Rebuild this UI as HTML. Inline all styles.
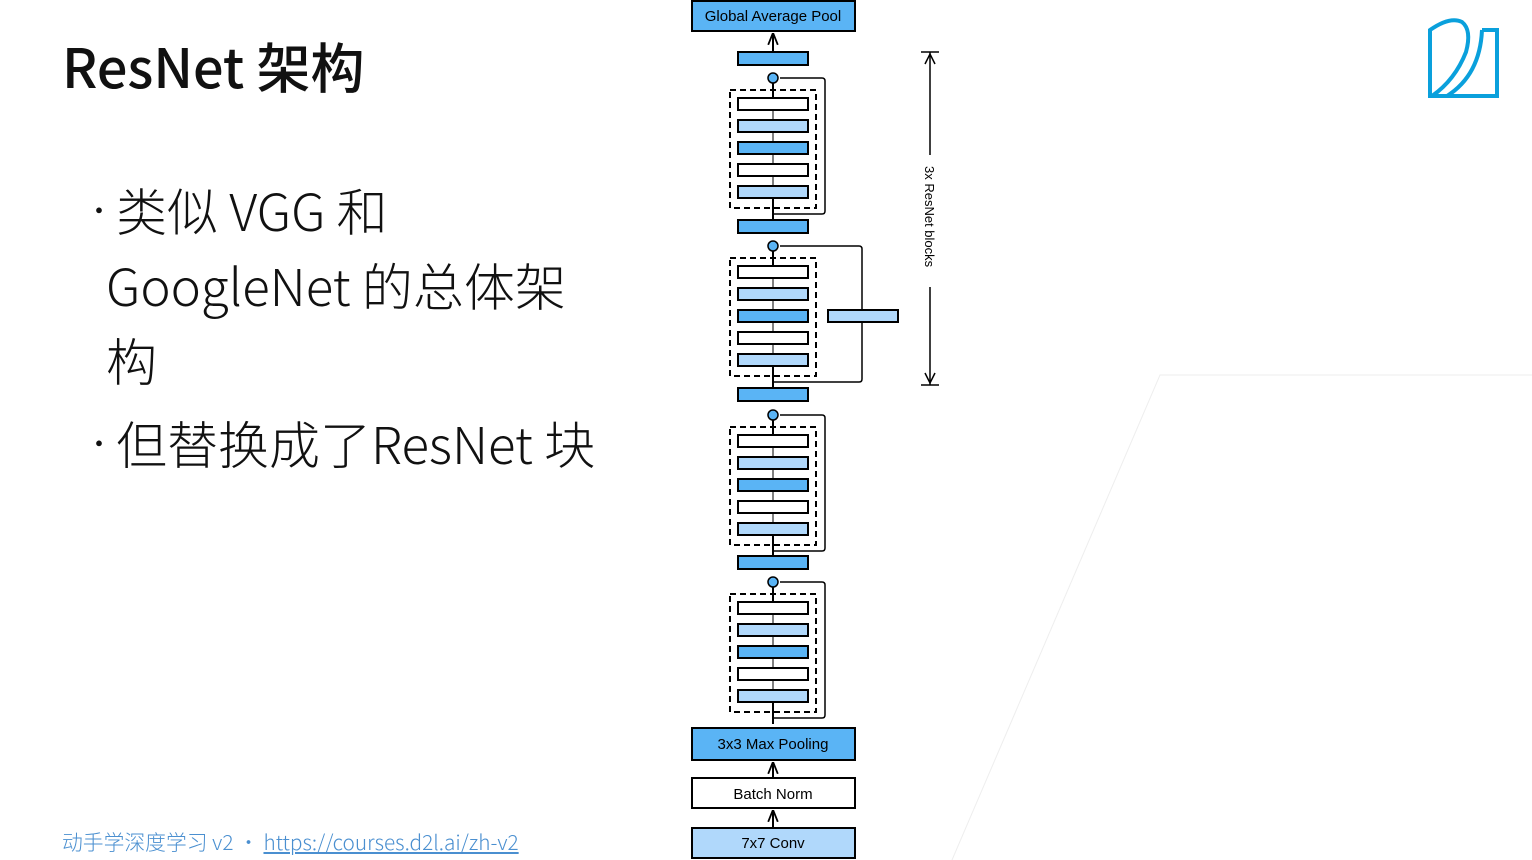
<!DOCTYPE html>
<html><head><meta charset="utf-8"><style>
body{margin:0;width:1532px;height:860px;background:#fff;overflow:hidden;position:relative;font-family:"Noto Sans CJK SC","Liberation Sans",sans-serif}
.t{position:absolute;color:#111;white-space:nowrap}
.b{position:absolute;left:-32px;top:0;font-size:30px}
</style></head><body>
<div class="t" style="left:62px;top:30px;font-size:54px;font-weight:500;line-height:70px">ResNet 架构</div>
<div class="t" style="left:116px;top:172px;font-size:51px;line-height:75px;font-weight:300">
<div style="position:relative"><span class="b">•</span>类似 VGG 和<div style="margin-left:-10px">GoogleNet 的总体架<br>构</div></div>
<div style="position:relative;margin-top:8px"><span class="b">•</span>但替换成了ResNet 块</div>
</div>
<div class="t" style="left:62px;top:826px;font-size:20.8px;line-height:30px;color:#4a8fd0;font-weight:300">动手学深度学习 v2 • <span style="text-decoration:underline">https://courses.d2l.ai/zh-v2</span></div>
<svg width="1532" height="860" style="position:absolute;left:0;top:0" font-family="Liberation Sans,sans-serif">
<path d="M952 860 L1160 375 L1532 375" stroke="#eee" fill="none"/>
<defs><marker id="a" viewBox="0 0 10 10" refX="9" refY="5" markerWidth="6" markerHeight="6" orient="auto"><path d="M0 1L10 5L0 9" fill="none" stroke="#000" stroke-width="1.5"/></marker></defs>
<g stroke="#000" stroke-width="2">
<rect x="692" y="1" width="163" height="30" fill="#5ab4f5"/>
<line x1="773" y1="52" x2="773" y2="34" marker-end="url(#a)"/>
<rect x="738" y="52" width="70" height="13" fill="#5ab4f5"/>
<rect x="738" y="220" width="70" height="13" fill="#5ab4f5"/>
<rect x="738" y="388" width="70" height="13" fill="#5ab4f5"/>
<rect x="738" y="556" width="70" height="13" fill="#5ab4f5"/>
<rect x="692" y="728" width="163" height="32" fill="#5ab4f5"/>
<rect x="692" y="778" width="163" height="30" fill="#fff"/>
<rect x="692" y="828" width="163" height="30" fill="#b0d8fb"/>
<line x1="773" y1="828" x2="773" y2="811" marker-end="url(#a)"/>
<line x1="773" y1="778" x2="773" y2="763" marker-end="url(#a)"/>
</g>
<g id="blk"></g>
<text x="773" y="21" font-size="15" text-anchor="middle">Global Average Pool</text>
<text x="773" y="749" font-size="15" text-anchor="middle">3x3 Max Pooling</text>
<text x="773" y="799" font-size="15" text-anchor="middle">Batch Norm</text>
<text x="773" y="848" font-size="15" text-anchor="middle">7x7 Conv</text>
<g stroke="#000" stroke-width="1.5">
<line x1="930" y1="52" x2="930" y2="155"/><line x1="930" y1="287" x2="930" y2="385"/>
<line x1="921" y1="52" x2="939" y2="52"/><line x1="921" y1="385" x2="939" y2="385"/>
<path d="M925 64L930 54L935 64M925 373L930 383L935 373" fill="none"/>
</g>
<text transform="translate(925,166) rotate(90)" font-size="13">3x ResNet blocks</text>
<g fill="none" stroke="#0aa0dc" stroke-width="4">
<path d="M1430 96V30Q1450 16 1462 22Q1472 30 1466 52Q1455 80 1432 96ZM1430 96H1497V30H1482"/>
<path d="M1482 30Q1480 75 1447 96"/>
</g>
</svg>
<script>
var g=document.getElementById('blk'),s='';
var tops=[90,258,427,594],C=['#fff','#b0d8fb','#5ab4f5','#fff','#b0d8fb'];
tops.forEach(function(t,i){
 var cy=t-12, below=t+124;
 s+='<rect x="730" y="'+t+'" width="86" height="118" fill="none" stroke="#000" stroke-width="2" stroke-dasharray="6,4"/>';
 for(var k=0;k<5;k++){var y=t+8+k*22;s+='<rect x="738" y="'+y+'" width="70" height="12" fill="'+C[k]+'" stroke="#000" stroke-width="2"/>';
  if(k<4)s+='<line x1="773" y1="'+(y+22)+'" x2="773" y2="'+(y+12)+'" stroke="#000" stroke-width="1"/>';}
 s+='<line x1="773" y1="'+(below+6)+'" x2="773" y2="'+(t+108)+'" stroke="#000" stroke-width="2"/>';
 s+='<line x1="773" y1="'+(t+8)+'" x2="773" y2="'+(cy+5)+'" stroke="#000" stroke-width="2"/>';
 var rx=(i==1)?862:825;
 s+='<path d="M773 '+(below)+'H'+(rx-3)+'Q'+rx+' '+below+' '+rx+' '+(below-3)+'V'+(cy+3)+'Q'+rx+' '+cy+' '+(rx-3)+' '+cy+'H780" fill="none" stroke="#000" stroke-width="1.5"/>';
 s+='<circle cx="773" cy="'+cy+'" r="5" fill="#5ab4f5" stroke="#000" stroke-width="1.5"/>';
 if(i==1)s+='<rect x="828" y="310" width="70" height="12" fill="#b0d8fb" stroke="#000" stroke-width="2"/>';
});
g.innerHTML=s;
</script>
</body></html>
